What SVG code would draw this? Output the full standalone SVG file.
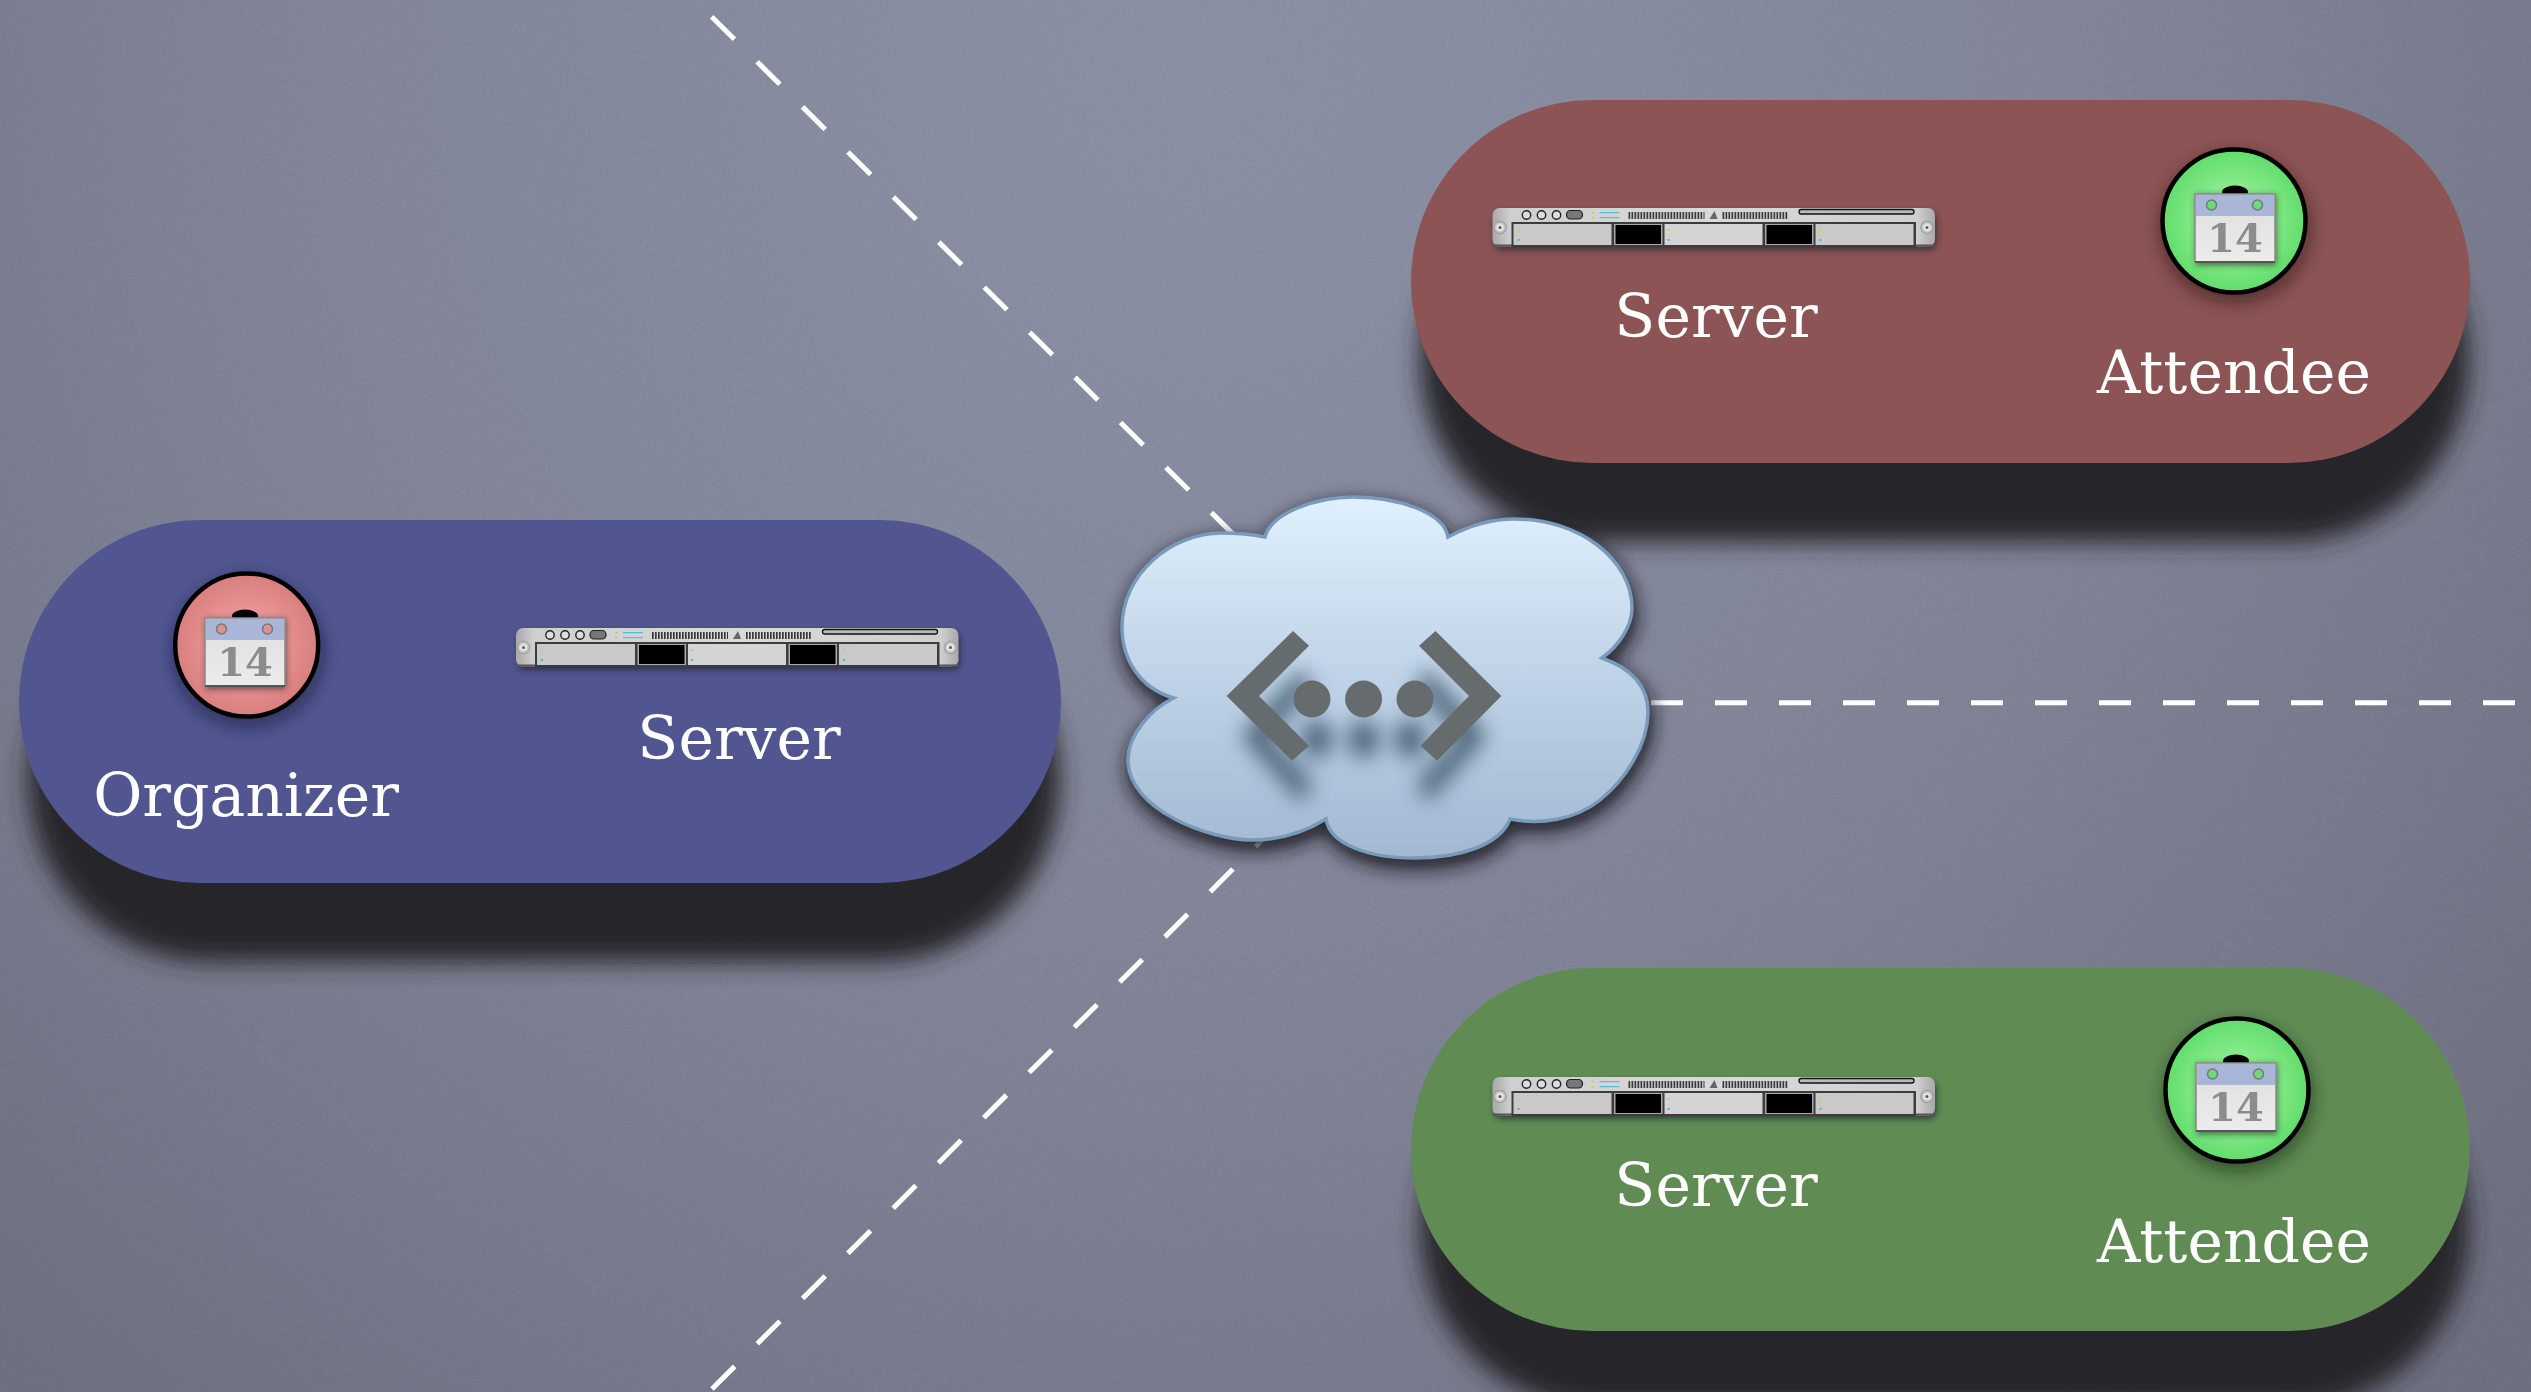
<svg xmlns="http://www.w3.org/2000/svg" xmlns:xlink="http://www.w3.org/1999/xlink" width="2531" height="1392" viewBox="0 0 2531 1392">
<style>
.lbl{font-family:"DejaVu Serif","Liberation Serif",serif;font-size:60px;fill:#fff;text-anchor:middle}
.dash{fill:none;stroke:#fff;stroke-width:5;stroke-dasharray:32 32}
.num{font-family:"DejaVu Serif","Liberation Serif",serif;font-weight:700;font-size:40px;fill:#8c8c8c;text-anchor:middle}
</style>
<defs>
<radialGradient id="bg" gradientUnits="userSpaceOnUse" cx="1200" cy="60" r="1750">
<stop offset="0" stop-color="#8b91a5"/><stop offset=".5" stop-color="#838699"/><stop offset="1" stop-color="#6f7183"/>
</radialGradient>
<linearGradient id="cloudFill" x1="0" y1="0" x2="0" y2="1"><stop offset="0" stop-color="#e0f0fd"/><stop offset=".55" stop-color="#bcd0e5"/><stop offset="1" stop-color="#a2b9d2"/></linearGradient>
<linearGradient id="body" x1="0" y1="0" x2="1" y2="0"><stop offset="0" stop-color="#a8a8a8"/><stop offset=".04" stop-color="#cfcfcf"/><stop offset=".5" stop-color="#d9d9d9"/><stop offset=".96" stop-color="#cfcfcf"/><stop offset="1" stop-color="#a8a8a8"/></linearGradient>
<radialGradient id="pink"><stop offset="0" stop-color="#f4a8a8"/><stop offset=".6" stop-color="#e69090"/><stop offset="1" stop-color="#d87e7e"/></radialGradient>
<radialGradient id="lime"><stop offset="0" stop-color="#aaf4aa"/><stop offset=".55" stop-color="#84e988"/><stop offset="1" stop-color="#62dd6c"/></radialGradient>
<linearGradient id="page" x1="0" y1="0" x2="0" y2="1"><stop offset="0" stop-color="#dedede"/><stop offset="1" stop-color="#ececec"/></linearGradient>
<radialGradient id="screw"><stop offset="0" stop-color="#fff"/><stop offset=".6" stop-color="#d5d5d5"/><stop offset="1" stop-color="#999"/></radialGradient>
<filter id="noise" x="0" y="0" width="100%" height="100%"><feTurbulence type="fractalNoise" baseFrequency=".35" numOctaves="2" seed="4"/><feColorMatrix values="0 0 0 0 0 0 0 0 0 0 0 0 0 0 0 0 0 0 .9 -.38"/></filter>
<filter id="b14" x="-20%" y="-40%" width="140%" height="180%"><feGaussianBlur stdDeviation="12"/></filter>
<filter id="b8" x="-30%" y="-30%" width="160%" height="160%"><feGaussianBlur stdDeviation="9"/></filter>
<filter id="b3" x="-20%" y="-20%" width="140%" height="140%"><feGaussianBlur stdDeviation="3"/></filter>
<filter id="b6" x="-40%" y="-40%" width="180%" height="180%"><feGaussianBlur stdDeviation="11"/></filter>
<filter id="soft" x="-5%" y="-5%" width="110%" height="110%"><feGaussianBlur stdDeviation=".6"/></filter>
<path id="cloudShape" d="M1265 537C1271 513 1316 497 1353.500 497C1399 497 1444 513 1448 537C1470 525 1490 519 1515 519C1580 519 1632 560 1632 608C1632 625 1620 645 1602 658C1630 668 1648 685 1648 712C1648 745 1625 780 1600 800C1575 820 1540 825 1510 819C1500 845 1460 858 1414 858C1370 858 1330 845 1326 819C1300 835 1275 840 1252 840C1210 840 1128 810 1128 760C1128 735 1150 710 1173.500 698C1140 688 1122 660 1122 627C1122 575 1170 533 1222 533C1240 533 1255 535 1265 537Z"/>
<g id="netIcon">
<path d="M1293 631L1226.600 696L1292 760.700L1309 745.700L1259 696L1309 645.700Z"/>
<path d="M1435.500 631L1419 645.700L1469 696L1420.500 745.700L1437 760.700L1501.400 696Z"/>
<circle cx="1312" cy="699" r="18.500"/><circle cx="1363.600" cy="699" r="18.500"/><circle cx="1415" cy="699" r="18.500"/>
</g>
<g id="server">
<rect x="38" y="32" width="442" height="38" rx="7" fill="#1d2030" opacity=".7" filter="url(#b3)"/>
<rect x="36" y="28" width="442.500" height="38.700" rx="7" fill="url(#body)"/>
<rect x="36" y="64.500" width="442.500" height="2.200" rx="1" fill="#555"/>
<rect x="55" y="42" width="404.500" height="25" fill="#3c3c3c"/>
<rect x="57" y="44" width="98" height="21" fill="#c8c9c8"/><rect x="208" y="44" width="98" height="21" fill="#d3d4d3"/><rect x="359" y="44" width="98" height="21" fill="#c8c9c8"/>
<rect x="157.500" y="44" width="48.500" height="21" fill="#aaa"/><rect x="159" y="45" width="45.500" height="19" fill="#000"/>
<rect x="308.500" y="44" width="48.500" height="21" fill="#aaa"/><rect x="310" y="45" width="45.500" height="19" fill="#000"/>
<g fill="#c5cf4a"><rect x="61" y="49" width="2" height="2"/><rect x="211" y="49" width="2" height="2"/><rect x="363" y="49" width="2" height="2"/></g>
<g fill="#45b5d5"><rect x="61" y="59" width="2" height="2"/><rect x="211" y="59" width="2" height="2"/><rect x="363" y="59" width="2" height="2"/></g>
<circle cx="43.500" cy="47.500" r="6.500" fill="url(#screw)" stroke="#999" stroke-width=".5"/><circle cx="470.500" cy="47.500" r="6.500" fill="url(#screw)" stroke="#999" stroke-width=".5"/>
<circle cx="43.500" cy="47.500" r="1.500" fill="#555"/><circle cx="470.500" cy="47.500" r="1.500" fill="#555"/>
<g fill="#ddd" stroke="#222" stroke-width="1.400"><circle cx="70" cy="35" r="4.200"/><circle cx="85" cy="35" r="4.200"/><circle cx="100" cy="35" r="4.200"/></g>
<rect x="110" y="30.500" width="16" height="8.500" rx="4" fill="#777" stroke="#222" stroke-width="1.200"/>
<g fill="#4cc0dc"><rect x="143" y="32" width="20" height="1.200"/><rect x="143" y="37" width="20" height="1.200"/></g>
<rect x="135" y="32" width="3" height="1.500" fill="#c5cf4a"/><rect x="135" y="37" width="3" height="1.500" fill="#c5cf4a"/>
<g fill="none" stroke="#3a3a3a" stroke-width="7" stroke-dasharray="1.700 1.300"><path d="M172 35.500H248"/><path d="M266 35.500H332"/></g>
<path d="M253 39L258 31L261 39Z" fill="#666"/>
<rect x="342.500" y="29.500" width="115" height="4.500" rx="2.200" fill="#bbb" stroke="#111" stroke-width="1.300"/>
</g>
<g id="calendar">
<ellipse cx="0" cy="-29" rx="13" ry="6.500" fill="#000"/>
<rect x="-39" y="-26" width="80" height="70" fill="#222" opacity=".65" filter="url(#b3)"/>
<rect x="-40" y="-27" width="80" height="68" fill="url(#page)" stroke="#8a8a8a" stroke-width="1.500"/>
<rect x="-39" y="-26" width="78" height="21" fill="#aab6d8"/>
<rect x="-40" y="40" width="80" height="2" fill="#555"/>
<circle cx="-23.500" cy="-16" r="5" fill="currentColor" stroke="#777" stroke-width="1.500"/><circle cx="22.500" cy="-16" r="5" fill="currentColor" stroke="#777" stroke-width="1.500"/>
<text class="num" x="0" y="31" filter="url(#soft)">14</text>
</g>
</defs>
<rect width="2531" height="1392" fill="url(#bg)"/>
<rect width="2531" height="1392" filter="url(#noise)" opacity=".07"/>
<g id="connectors">
<path class="dash" d="M711.700 16.700L1240 541"/>
<path class="dash" d="M1651 702.700H2531"/>
<path class="dash" d="M712 1389L1262 840"/>
</g>
<g id="organizer-group">
<rect x="28" y="597" width="1032" height="365" rx="182" fill="#26272c" filter="url(#b14)"/>
<rect x="19" y="520" width="1042" height="363" rx="181.500" fill="#515690"/>
<use href="#server" x="480" y="600"/>
<circle cx="248" cy="652" r="74" fill="#0e1025" opacity=".55" filter="url(#b8)"/>
<circle cx="246.700" cy="645" r="71.500" fill="url(#pink)" stroke="#000" stroke-width="4.500"/>
<use href="#calendar" x="245" y="645" color="#e09090"/>
<text class="lbl" x="739" y="759">Server</text>
<text class="lbl" x="246" y="816">Organizer</text>
</g>
<g id="attendee-group-1">
<rect x="1420" y="177" width="1049" height="365" rx="182" fill="#26272c" filter="url(#b14)"/>
<rect x="1411" y="100" width="1059" height="363" rx="181.500" fill="#8c5454"/>
<use href="#server" x="1456.500" y="180"/>
<circle cx="2235" cy="228" r="74" fill="#1a0808" opacity=".55" filter="url(#b8)"/>
<circle cx="2234" cy="221" r="71.500" fill="url(#lime)" stroke="#000" stroke-width="4.500"/>
<use href="#calendar" x="2235" y="221" color="#6fd878"/>
<text class="lbl" x="1716" y="337">Server</text>
<text class="lbl" x="2234" y="393">Attendee</text>
</g>
<g id="attendee-group-2">
<rect x="1420" y="1045" width="1049" height="365" rx="182" fill="#26272c" filter="url(#b14)"/>
<rect x="1411" y="968" width="1059" height="363" rx="181.500" fill="#608c54"/>
<use href="#server" x="1456.500" y="1049"/>
<circle cx="2238" cy="1097" r="74" fill="#081a08" opacity=".55" filter="url(#b8)"/>
<circle cx="2237" cy="1090" r="71.500" fill="url(#lime)" stroke="#000" stroke-width="4.500"/>
<use href="#calendar" x="2236" y="1090" color="#6fd878"/>
<text class="lbl" x="1716" y="1206">Server</text>
<text class="lbl" x="2234" y="1262">Attendee</text>
</g>
<g id="cloud">
<use href="#cloudShape" x="2" y="8" fill="#15171f" stroke="#15171f" stroke-width="8" opacity=".85" filter="url(#b8)"/>
<use href="#cloudShape" fill="url(#cloudFill)" stroke="#7a9abb" stroke-width="3.500"/>
<g transform="translate(1363.600 739) scale(.9 1) translate(-1363.600 -699)" fill="#4a6075" opacity=".95" filter="url(#b6)"><use href="#netIcon"/></g>
<use href="#netIcon" fill="#666c6e"/>
</g>
</svg>
